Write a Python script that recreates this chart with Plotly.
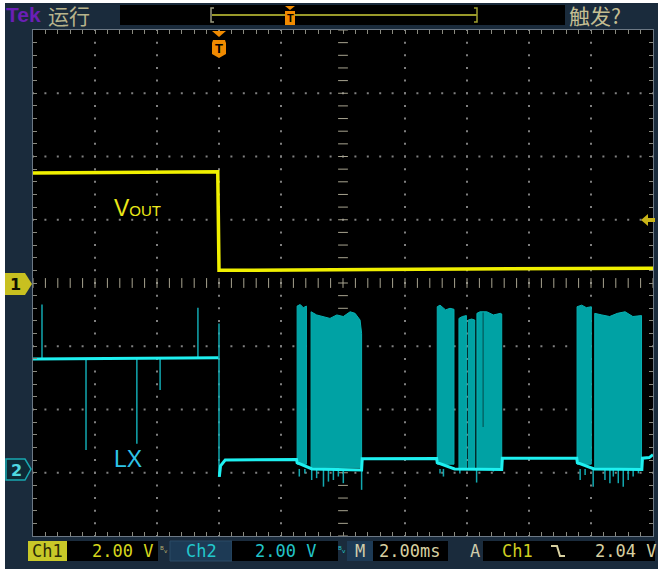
import numpy as np
import plotly.graph_objects as go

# ---------------- data ----------------
# time in ms (2.00 ms/div, trigger at t = 0); voltages in V (2.00 V/div)
# Ch1 : VOUT
vout_t = [-6.0, -3.0, -0.04, 0.0, 0.08, 5.0, 10.0, 14.0]
vout_v = [3.48, 3.50, 3.52, 0.40, 0.40, 0.43, 0.45, 0.47]

# Ch2 : LX idle level before the trigger
lx_pre_t = [-6.0, -3.0, -0.02]
lx_pre_v = [3.48, 3.50, 3.52]

# Ch2 : LX baseline after the trigger (idle level between bursts, low level under bursts)
lx_post_t = [0.01, 0.05, 0.2, 2.50, 2.52, 3.0, 4.60, 4.62, 7.02, 7.04, 7.6, 9.12, 9.14,
             11.54, 11.56, 12.1, 13.64, 13.66, 13.88, 14.0]
lx_post_v = [-0.25, 0.10, 0.28, 0.30, 0.20, 0.00, -0.03, 0.32, 0.33, 0.20, 0.00, -0.02, 0.34,
             0.34, 0.20, 0.00, -0.02, 0.34, 0.36, 0.45]

# Ch2 : isolated thin spikes (start level -> peak)
spike_t = [-5.71, -4.29, -2.65, -1.90, -0.68, 0.0]
spike_base = [3.5, 3.5, 3.5, 3.5, 3.5, 4.6]
spike_peak = [5.2, 0.6, 0.8, 2.5, 5.1, -0.25]

# Ch2 : switching bursts, each dense segment given by its top envelope (time, volts)
burst_seg_t = [
    [2.52, 2.62, 2.72, 2.82],
    [2.97, 3.15, 3.37, 3.58, 3.80, 4.01, 4.23, 4.39, 4.55, 4.60],
    [7.04, 7.13, 7.31, 7.45, 7.58],
    [7.74, 7.85, 7.98],
    [8.04, 8.15, 8.25],
    [8.32, 8.42, 8.64, 8.85, 9.08, 9.12],
    [11.55, 11.70, 11.85, 12.01],
    [12.12, 12.35, 12.60, 12.85, 13.10, 13.35, 13.63],
]
burst_seg_top = [
    [5.15, 5.20, 5.10, 5.15],
    [4.97, 4.87, 4.82, 4.76, 4.87, 4.82, 4.97, 4.92, 4.71, 4.29],
    [5.13, 5.18, 5.03, 5.08, 5.05],
    [4.76, 4.82, 4.85],
    [4.71, 4.74, 4.71],
    [4.92, 4.97, 4.97, 4.87, 4.92, 4.90],
    [5.13, 5.18, 5.10, 5.13],
    [4.92, 4.87, 4.82, 4.92, 4.97, 4.82, 4.85],
]
burst_seg_low = [0.15, 0.05, 0.15, 0.0, 0.0, 0.0, 0.15, 0.0]

# Ch2 : short drop-out inside a burst (time, top it starts from, lowest reach)
dropout_t = [8.52]
dropout_top = [4.95]
dropout_v = [1.33]

# Ch2 : ringing spikes under the bursts (peak voltage)
ring_t = [2.59, 2.77, 2.99, 3.15, 3.37, 3.53, 3.69, 3.85, 4.01, 4.60, 7.13, 7.24, 7.77,
          8.31, 8.85, 11.65, 11.81, 12.07, 12.45, 12.61, 12.72, 12.88, 13.04, 13.20, 13.36, 13.53]
ring_v = [-0.24, -0.14, -0.35, -0.29, -0.56, -0.40, -0.35, -0.24, -0.45, -0.66, -0.14, -0.24,
          -0.14, -0.43, -0.08, -0.35, -0.19, -0.56, -0.35, -0.45, -0.24, -0.45, -0.56, -0.35,
          -0.24, -0.14]

# ---------------- display geometry ----------------
W, H = 658, 569
L, R, T, B = 33, 653, 30, 536
PW, PH = R - L, B - T
X_RANGE = [-6, 14]          # 10 div * 2 ms
Y1_RANGE = [-8, 8]          # ch1 ground at centre
Y2_RANGE = [-2.12, 13.88]   # ch2 ground 2.94 div below centre


def px(x):
    return (x - L) / PW


def py(y):
    return (B - y) / PH


def path(pts, close=True):
    s = "M " + " L ".join(f"{px(a):.5f},{py(b):.5f}" for a, b in pts)
    return s + (" Z" if close else "")


NAVY = "#1a2b3c"
YEL = "#f0f000"
CYAN = "#1ef0f0"
TEAL = "#00a2a4"

fig = go.Figure()

# ---------------- graticule ----------------
minor = 0.4
dots_x, dots_y = [], []
for xv in [-4, -2, 0, 2, 6, 8, 10, 12]:
    for yv in np.arange(-8, 8.001, minor):
        dots_x.append(xv)
        dots_y.append(yv)
for yv in [-6, -4, -2, 2, 4, 6]:
    for xv in np.arange(-6, 14.001, minor):
        dots_x.append(xv)
        dots_y.append(yv)
fig.add_trace(go.Scatter(x=dots_x, y=dots_y, mode="markers", hoverinfo="skip",
                         marker=dict(symbol="square", size=2, color="#808080", line=dict(width=0))))
cx = list(np.arange(-6, 14.001, minor))
fig.add_trace(go.Scatter(x=cx, y=[0] * len(cx), mode="markers", hoverinfo="skip",
                         marker=dict(symbol="line-ns", size=7, line=dict(width=1, color="#a8a490"))))
cy = list(np.arange(-8, 8.001, minor))
fig.add_trace(go.Scatter(x=[4] * len(cy), y=cy, mode="markers", hoverinfo="skip",
                         marker=dict(symbol="line-ew", size=7, line=dict(width=1, color="#a8a490"))))

# ---------------- Ch2 : LX ----------------
bx, by = [], []
for ts, tops, lo in zip(burst_seg_t, burst_seg_top, burst_seg_low):
    bx += [ts[0]] + list(ts) + [ts[-1], ts[0], None]
    by += [lo] + list(tops) + [lo, lo, None]
fig.add_trace(go.Scatter(x=bx, y=by, yaxis="y2", mode="lines", fill="toself",
                         fillcolor=TEAL, line=dict(width=1, color="#08b0b2"), hoverinfo="skip"))

dx, dy = [], []
for t, tp, v in zip(dropout_t, dropout_top, dropout_v):
    dx += [t, t, None]
    dy += [tp, v, None]
fig.add_trace(go.Scatter(x=dx, y=dy, yaxis="y2", mode="lines",
                         line=dict(width=1.2, color="#04585a"), hoverinfo="skip"))

sx, sy = [], []
for t, b0, p in zip(spike_t, spike_base, spike_peak):
    sx += [t, t, None]
    sy += [b0, p, None]
for t, p in zip(ring_t, ring_v):
    sx += [t, t, None]
    sy += [0.0, p, None]
fig.add_trace(go.Scatter(x=sx, y=sy, yaxis="y2", mode="lines",
                         line=dict(width=1.5, color="#12a8b0"), hoverinfo="skip"))

fig.add_trace(go.Scatter(x=lx_pre_t + [None] + lx_post_t, y=lx_pre_v + [None] + lx_post_v,
                         yaxis="y2", mode="lines", line=dict(width=3, color=CYAN), hoverinfo="skip"))

# ---------------- Ch1 : VOUT ----------------
fig.add_trace(go.Scatter(x=vout_t, y=vout_v, mode="lines",
                         line=dict(width=3.5, color=YEL), hoverinfo="skip"))

# ---------------- frame decorations ----------------
shapes = []
ann = []


def rect(x0, y0, x1, y1, fill, line=None, lw=0):
    shapes.append(dict(type="rect", xref="paper", yref="paper",
                       x0=px(x0), x1=px(x1), y0=py(y1), y1=py(y0),
                       fillcolor=fill, line=dict(width=lw, color=line or fill), layer="above"))


def text(x, y, s, color, size, family="DejaVu Sans Mono", xanchor="left", bold=False):
    ann.append(dict(xref="paper", yref="paper", x=px(x), y=py(y), text=(f"<b>{s}</b>" if bold else s),
                    showarrow=False, xanchor=xanchor, yanchor="middle",
                    font=dict(color=color, size=size, family=family)))


# white outer margins
rect(0, 0, 5, H, "white")
rect(0, 0, W, 3, "white")

# top bar
rect(120, 5, 565, 25, "black")
text(4, 15, "Tek", "#6a1fb5", 21, "Liberation Sans", bold=True)
text(46, 15, "运行", "#b8b48c", 21, "Noto Sans CJK SC")
text(567, 15, "触发?", "#c4be92", 21, "Noto Sans CJK SC")
shapes.append(dict(type="line", xref="paper", yref="paper", x0=px(212), x1=px(477), y0=py(15), y1=py(15),
                   line=dict(color="#9a9a2a", width=2), layer="above"))
shapes.append(dict(type="path", xref="paper", yref="paper", path=path([(214, 8), (211, 8), (211, 22), (214, 22)], False),
                   line=dict(color="#9a9a80", width=1.5), layer="above"))
shapes.append(dict(type="path", xref="paper", yref="paper", path=path([(474, 8), (477, 8), (477, 22), (474, 22)], False),
                   line=dict(color="#a0a030", width=1.5), layer="above"))
# trigger position marker in the top bar
shapes.append(dict(type="path", xref="paper", yref="paper", path=path([(285, 6), (295, 6), (290, 10)]),
                   fillcolor="#f08a00", line=dict(width=0), layer="above"))
rect(285, 11, 295, 25, "#f08a00")
text(290, 18, "T", "black", 11, "Liberation Sans", xanchor="center", bold=True)
# trigger marker at top of the graticule
shapes.append(dict(type="path", xref="paper", yref="paper", path=path([(212, 31), (226, 31), (219, 37)]),
                   fillcolor="#f08a00", line=dict(width=0), layer="above"))
shapes.append(dict(type="path", xref="paper", yref="paper",
                   path=path([(213, 40), (225, 40), (226, 43), (226, 54), (219, 58), (212, 54), (212, 43)]),
                   fillcolor="#f08a00", line=dict(width=0), layer="above"))
text(219, 48, "T", "black", 13, "Liberation Sans", xanchor="center", bold=True)

# trigger level arrow on the right
shapes.append(dict(type="path", xref="paper", yref="paper",
                   path=path([(641, 220), (648, 214), (648, 218), (655, 218), (655, 222), (648, 222), (648, 226)]),
                   fillcolor="#c8b418", line=dict(width=0), layer="above"))

# channel ground markers
shapes.append(dict(type="path", xref="paper", yref="paper",
                   path=path([(5, 273), (25, 273), (32, 284), (25, 295), (5, 295)]),
                   fillcolor="#c8c020", line=dict(width=0), layer="above"))
text(15, 284, "1", "#101000", 16, "DejaVu Sans", xanchor="center", bold=True)
shapes.append(dict(type="path", xref="paper", yref="paper",
                   path=path([(6, 459), (25, 459), (31, 469), (25, 480), (6, 480)]),
                   fillcolor="#0e2a36", line=dict(width=1.5, color="#18a8b0"), layer="above"))
text(16, 470, "2", "#50d8e0", 16, "DejaVu Sans", xanchor="center", bold=True)

# signal labels
text(112, 208, "V<span style='font-size:15px'>OUT</span>", "#ece818", 23, "Liberation Sans")
text(112, 459, "LX", "#2ec4e8", 23, "Liberation Sans")

# bottom status bar
rect(28, 541, 67, 561, "#c8c828")
text(47, 551, "Ch1", "#2a2a08", 17, xanchor="center")
rect(67, 541, 158, 561, "black")
text(90, 551, "2.00 V", "#d6d61c", 17)
text(164, 550, "ᴮᵥ", "#b8b070", 9, "DejaVu Sans", xanchor="center")
rect(170, 541, 232, 561, "#1d3a55", line="#2a4a66", lw=1)
text(201, 551, "Ch2", "#22c8cc", 17, xanchor="center")
rect(232, 541, 338, 561, "black")
text(253, 551, "2.00 V", "#22c4c8", 17)
text(342, 550, "ᴮᵥ", "#22c4c8", 9, "DejaVu Sans", xanchor="center")
rect(347, 541, 373, 561, "#1d3a55")
text(360, 551, "M", "#d0ccaa", 17, xanchor="center")
rect(373, 541, 448, 561, "black")
text(377, 551, "2.00ms", "#d8d0a0", 17)
text(475, 551, "A", "#d0ccaa", 17, xanchor="center")
rect(483, 541, 655, 561, "black")
text(500, 551, "Ch1", "#d0d020", 17)
shapes.append(dict(type="path", xref="paper", yref="paper",
                   path=path([(551, 546), (557, 546), (560, 556), (565, 556)], False),
                   line=dict(color="#d8d0a0", width=2), layer="above"))
text(593, 551, "2.04 V", "#d8d0a0", 17)

axis_common = dict(showgrid=False, zeroline=False, showticklabels=False, ticks="inside",
                   ticklen=4, tickcolor="#8a8a80", tickwidth=1, showline=True,
                   linecolor="#6c7884", linewidth=1, mirror="ticks", fixedrange=True)

fig.update_layout(
    width=W, height=H, autosize=False,
    margin=dict(l=L, r=W - R, t=T, b=H - B, pad=0),
    paper_bgcolor=NAVY, plot_bgcolor="black",
    showlegend=False,
    xaxis=dict(range=X_RANGE, tick0=-6, dtick=minor, **axis_common),
    yaxis=dict(range=Y1_RANGE, tick0=-8, dtick=minor, **axis_common),
    yaxis2=dict(range=Y2_RANGE, overlaying="y", visible=False, fixedrange=True),
    shapes=shapes, annotations=ann,
)

fig.write_html("out.html", config={"displayModeBar": False},
               post_script="document.body.style.margin='0px';document.body.style.overflow='hidden';")
